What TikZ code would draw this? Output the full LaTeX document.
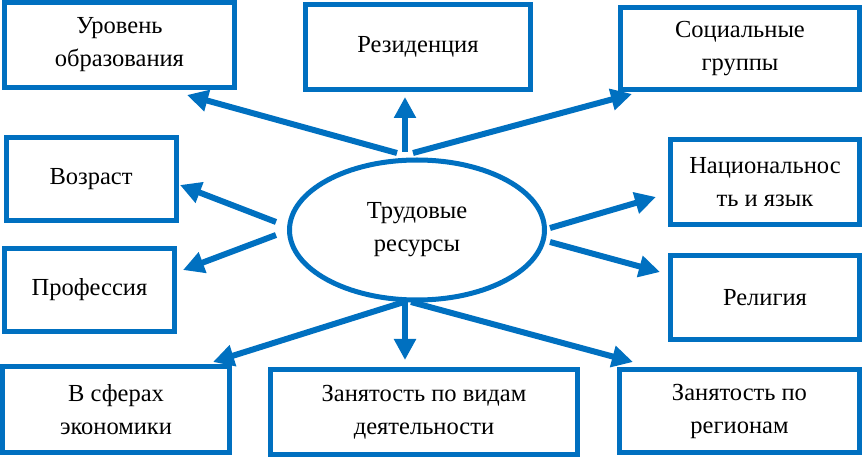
\documentclass[tikz,border=0pt]{standalone}
\usepackage{fontspec}
\setmainfont{Liberation Serif}
\usetikzlibrary{arrows.meta,shapes.geometric}
\definecolor{cblue}{RGB}{0,112,192}
\begin{document}
\begin{tikzpicture}[x=1pt,y=-1pt,
  box/.style={draw=cblue, line width=5pt, inner sep=0pt, outer sep=0pt, align=center, text=black, font=\fontsize{24.5}{33}\selectfont},
  oval/.style={draw=cblue, line width=5pt, ellipse, inner sep=0pt, outer sep=0pt, align=center, font=\fontsize{24.5}{33}\selectfont},
  arr/.style={draw=cblue, line width=6pt, -{Triangle[length=21pt,width=21pt]}}]
\useasboundingbox (0,0) rectangle (863,457);
\node[box, minimum width=230pt, minimum height=85pt] (edu) at (119.4,45) {Уровень\\образования};
\node[box, minimum width=225.5pt, minimum height=85.5pt] (res) at (418,47) {Резиденция};
\node[box, minimum width=238.5pt, minimum height=82pt] (soc) at (740,48.5) {Социальные\\группы};
\node[box, minimum width=170pt, minimum height=83.5pt] (age) at (91,179) {Возраст};
\node[box, minimum width=189.5pt, minimum height=85.5pt] (nat) at (765,182) {Национальнос\\ть и язык};
\node[box, minimum width=170pt, minimum height=82.5pt] (prof) at (89.5,290) {Профессия};
\node[box, minimum width=189pt, minimum height=84pt] (rel) at (765,297.5) {Религия};
\node[box, minimum width=227pt, minimum height=86pt] (eco) at (116,409.5) {В сферах\\экономики};
\node[box, minimum width=307pt, minimum height=85pt] (act) at (424,412) {Занятость по видам\\деятельности};
\node[box, minimum width=240pt, minimum height=83pt] (reg) at (739.5,411) {Занятость по\\регионам};
\node[oval, minimum width=255pt, minimum height=140pt] (lab) at (417,230) {Трудовые\\ресурсы};
\coordinate (s1) at (397,153); \coordinate (t1) at (187,95);
\coordinate (s2) at (405,152); \coordinate (t2) at (405,97);
\coordinate (s3) at (413,153); \coordinate (t3) at (632,94);
\coordinate (s4) at (276,222); \coordinate (t4) at (180,185);
\coordinate (s5) at (276,235); \coordinate (t5) at (183,270);
\coordinate (s6) at (550,228); \coordinate (t6) at (656,197);
\coordinate (s7) at (550,242); \coordinate (t7) at (660,272);
\coordinate (s8) at (404,302); \coordinate (t8) at (213,362);
\coordinate (s9) at (405,302); \coordinate (t9) at (405,360);
\coordinate (s10) at (411,302); \coordinate (t10) at (633,362);
\foreach \i in {1,...,10} {\draw[arr] (s\i) -- (t\i);}
\end{tikzpicture}
\end{document}
